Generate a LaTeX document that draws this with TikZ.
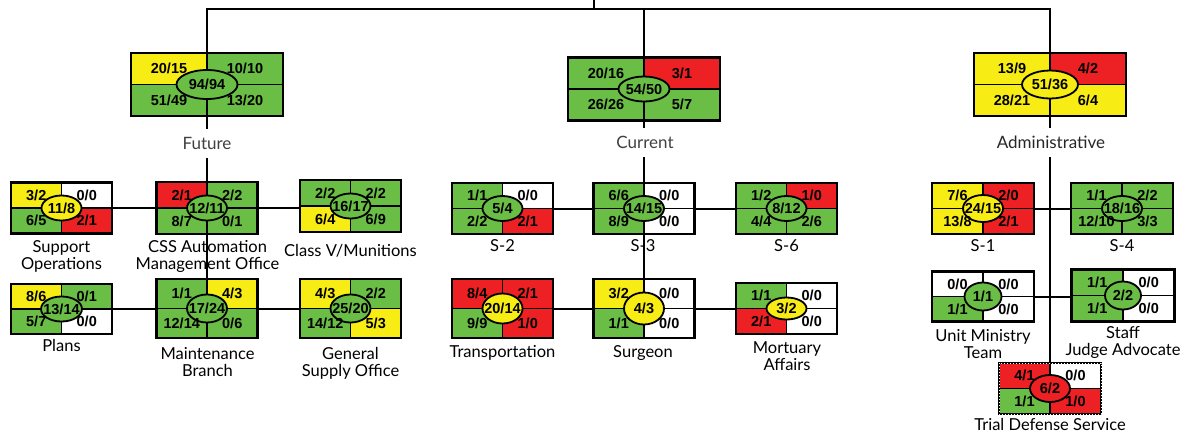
\documentclass[tikz,border=0pt]{standalone}
\usepackage{fontspec}
\setmainfont{Liberation Sans}
\newfontfamily\labfont{Lato}
\usetikzlibrary{shapes.geometric}
\definecolor{cg}{RGB}{106,189,69}
\definecolor{cy}{RGB}{247,236,20}
\definecolor{cr}{RGB}{237,32,36}
\definecolor{cw}{RGB}{255,255,255}
\definecolor{lgray}{RGB}{64,64,64}
\pgfdeclarelayer{bg}
\pgfsetlayers{bg,main}
\tikzset{
  qb/.style={shape=rectangle, inner sep=0pt, outer sep=0pt, minimum width=101pt, minimum height=51pt},
  bigqb/.style={qb, minimum width=152pt, minimum height=63pt},
  boxline/.style={draw=black, line width=2.6pt},
  divline/.style={draw=black, line width=1.8pt},
  ell/.style={ellipse, draw=black, line width=1.8pt, inner sep=0pt, outer sep=0pt, minimum width=40pt, minimum height=25pt},
  num/.style={font=\bfseries\fontsize{14.5}{15}\selectfont, inner sep=0pt},
  conn/.style={draw=black, line width=2pt},
  toplab/.style={font=\labfont\fontsize{17}{19}\selectfont, text=lgray, fill=white, inner xsep=2pt, inner ysep=8pt, anchor=base},
  lab/.style={font=\labfont\fontsize{16.5}{17}\selectfont, align=center, inner sep=0pt, anchor=base},
  tdsdots/.style={draw=white, line width=1pt, dash pattern=on 1pt off 2pt},
}
% #1 name, #2 position, #3 box style, #4-#7 colours TL TR BL BR, #8 ellipse options, #9 ellipse text
\newcommand\qbox[9]{%
  \node[#3] (#1) at #2 {};
  \fill[#4] (#1.north west) rectangle (#1.center);
  \fill[#5] (#1.north east) rectangle (#1.center);
  \fill[#6] (#1.south west) rectangle (#1.center);
  \fill[#7] (#1.south east) rectangle (#1.center);
  \draw[divline] (#1.north) -- (#1.south) (#1.west) -- (#1.east);
  \draw[boxline] (#1.north west) rectangle (#1.south east);
  \node[ell,#8] (#1-e) at (#1.center) {};
  \node[num] at (#1-e.center) {#9};
}
% quadrant texts: #1 name, #2 TL, #3 TR, #4 BL, #5 BR
\newcommand\qtext[5]{%
  \path (#1.north west) -- (#1.center) node[midway,num] {#2};
  \path (#1.north east) -- (#1.center) node[midway,num] {#3};
  \path (#1.south west) -- (#1.center) node[midway,num] {#4};
  \path (#1.south east) -- (#1.center) node[midway,num] {#5};
}
\begin{document}
\begin{tikzpicture}[x=1pt,y=-1pt]
\useasboundingbox (0,0) rectangle (1187,437);

% ---- top level
\qbox{fut}{(207,84.5)}{bigqb}{cy}{cg}{cg}{cg}{fill=cg,minimum width=61pt,minimum height=29pt}{94/94}
\qtext{fut}{20/15}{10/10}{51/49}{13/20}
\qbox{cur}{(644,89)}{bigqb}{cg}{cr}{cg}{cg}{fill=cg,minimum width=51pt,minimum height=25pt}{54/50}
\qtext{cur}{20/16}{3/1}{26/26}{5/7}
\qbox{adm}{(1050,84.5)}{bigqb}{cy}{cr}{cy}{cy}{fill=cy,minimum width=56pt,minimum height=28pt}{51/36}
\qtext{adm}{13/9}{4/2}{28/21}{6/4}

\node[toplab] (futl) at (207,149.5) {Future};
\node[toplab] (curl) at (645,148.5) {Current};
\node[toplab,text=black!85] (adml) at (1051,148.5) {Administrative};

% ---- Future
\qbox{so}{(61.5,208)}{qb}{cy}{cw}{cg}{cr}{fill=cy}{11/8}
\qtext{so}{3/2}{0/0}{6/5}{2/1}
\qbox{css}{(207,208)}{qb,minimum height=52pt}{cr}{cg}{cg}{cg}{fill=cg}{12/11}
\qtext{css}{2/1}{2/2}{8/7}{0/1}
\qbox{cls}{(350.5,206)}{qb,minimum height=52pt}{cg}{cg}{cy}{cg}{fill=cg}{16/17}
\qtext{cls}{2/2}{2/2}{6/4}{6/9}
\qbox{pln}{(61.5,309)}{qb,minimum height=50pt}{cy}{cg}{cg}{cw}{fill=cg,minimum width=41pt}{13/14}
\qtext{pln}{8/6}{0/1}{5/7}{0/0}
\qbox{mnt}{(207,308.5)}{qb,minimum height=59pt}{cg}{cy}{cg}{cg}{fill=cg,minimum height=28pt}{17/24}
\qtext{mnt}{1/1}{4/3}{12/14}{0/6}
\qbox{gso}{(350.5,308.5)}{qb,minimum height=59pt}{cy}{cg}{cg}{cy}{fill=cg,minimum height=28pt}{25/20}
\qtext{gso}{4/3}{2/2}{14/12}{5/3}

\node[lab] (sol) at (61.5,269) {Support\\Operations};
\node[lab] (cssl) at (207.5,269) {CSS Automation\\Management Office};
\node[lab] (clsl) at (350.5,256) {Class V/Munitions};
\node[lab] (plnl) at (61.5,351.7) {Plans};
\node[lab] (mntl) at (207.5,376) {Maintenance\\Branch};
\node[lab] (gsol) at (350.5,376) {General\\Supply Office};

% ---- Current
\qbox{s2}{(502.5,208.5)}{qb}{cg}{cw}{cg}{cr}{fill=cg}{5/4}
\qtext{s2}{1/1}{0/0}{2/2}{2/1}
\qbox{s3}{(644,208.5)}{qb}{cg}{cw}{cg}{cw}{fill=cg}{14/15}
\qtext{s3}{6/6}{0/0}{8/9}{0/0}
\qbox{s6}{(786.5,208.5)}{qb}{cg}{cr}{cg}{cg}{fill=cg}{8/12}
\qtext{s6}{1/2}{1/0}{4/4}{2/6}
\qbox{trn}{(502.5,308.5)}{qb,minimum height=59pt}{cr}{cr}{cg}{cr}{fill=cy,minimum height=30pt}{20/14}
\qtext{trn}{8/4}{2/1}{9/9}{1/0}
\qbox{srg}{(644,308.5)}{qb,minimum height=59pt}{cy}{cw}{cg}{cw}{fill=cy,minimum height=32pt}{4/3}
\qtext{srg}{3/2}{0/0}{1/1}{0/0}
\qbox{mor}{(786.5,308.5)}{qb}{cg}{cw}{cr}{cw}{fill=cy,minimum height=22pt}{3/2}
\qtext{mor}{1/1}{0/0}{2/1}{0/0}

\node[lab] (s2l) at (502.5,251.7) {S-2};
\node[lab] (s3l) at (643,251.7) {S-3};
\node[lab] (s6l) at (786.5,251.7) {S-6};
\node[lab] (trnl) at (502.5,357) {Transportation};
\node[lab] (srgl) at (643,357) {Surgeon};
\node[lab] (morl) at (787,370) {Mortuary\\Affairs};

% ---- Administrative
\qbox{s1}{(983,208.5)}{qb,minimum width=102pt}{cy}{cr}{cy}{cr}{fill=cy,minimum height=27pt}{24/15}
\qtext{s1}{7/6}{2/0}{13/8}{2/1}
\qbox{s4}{(1122,208.5)}{qb,minimum width=102pt}{cg}{cg}{cg}{cg}{fill=cg}{18/16}
\qtext{s4}{1/1}{2/2}{12/10}{3/3}
\qbox{umt}{(983,296.5)}{qb,minimum width=102pt,minimum height=50pt}{cw}{cw}{cg}{cw}{fill=cg,minimum width=37pt,minimum height=28pt}{1/1}
\qtext{umt}{0/0}{0/0}{1/1}{0/0}
\qbox{sja}{(1123,295.5)}{qb,minimum width=103pt,minimum height=52pt}{cg}{cw}{cg}{cw}{fill=cg,minimum width=36pt,minimum height=28pt}{2/2}
\qtext{sja}{1/1}{0/0}{1/1}{0/0}
\qbox{tds}{(1050,388.5)}{qb,minimum width=102pt}{cr}{cw}{cg}{cr}{fill=cr,minimum height=27pt}{6/2}
\qtext{tds}{4/1}{0/0}{1/1}{1/0}
\draw[tdsdots] (tds.north west) rectangle (tds.south east);

\node[lab] (s1l) at (983,251.7) {S-1};
\node[lab] (s4l) at (1122,251.7) {S-4};
\node[lab] (umtl) at (983,358) {Unit Ministry\\Team};
\node[lab] (sjal) at (1123,355.7) {Staff\\Judge Advocate};
\node[lab] (tdsl) at (1050,430) {Trial Defense Service};

% ---- connectors
\begin{pgfonlayer}{bg}
  \coordinate (root) at (594,0);
  \coordinate (bar) at (594,8.5);
  \draw[conn] (root) -- (bar);
  \draw[conn] (fut.north) |- (bar) -| (adm.north);
  \draw[conn] (bar) -| (cur.north);
  \draw[conn] (fut.south) -- (mnt.north);
  \draw[conn] (cur.south) -- (srg.north);
  \draw[conn] (adm.south) -- (tds.north);
  \draw[conn] (so.east) -- (so.east -| cls.west);
  \draw[conn] (pln.east) -- (pln.east -| gso.west);
  \draw[conn] (s2.east) -- (s2.east -| s6.west);
  \draw[conn] (trn.east) -- (trn.east -| mor.west);
  \draw[conn] (s1.east) -- (s1.east -| s4.west);
  \draw[conn] (umt.east) -- (umt.east -| sja.west);
\end{pgfonlayer}
\end{tikzpicture}
\end{document}
